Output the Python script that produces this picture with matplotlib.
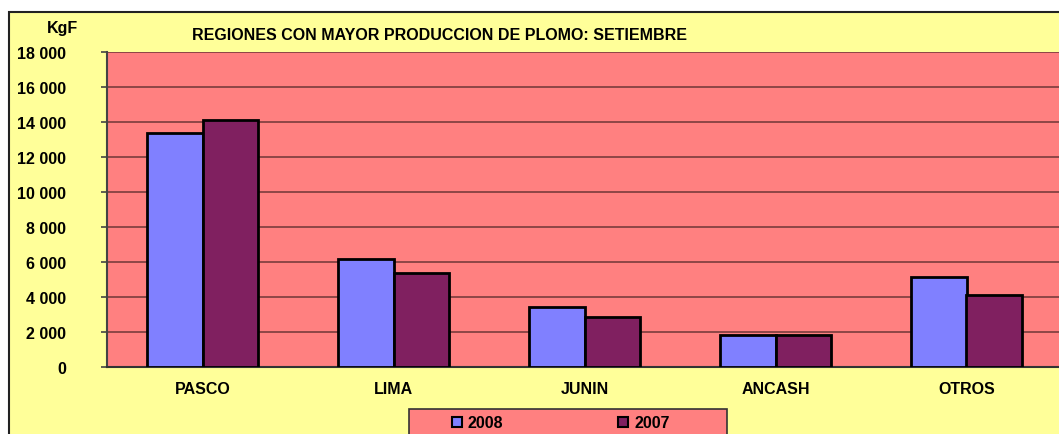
import numpy as np
import matplotlib.pyplot as plt
from matplotlib.patches import Rectangle, Patch

# data
regions = ["PASCO", "LIMA", "JUNIN", "ANCASH", "OTROS"]
prod_2008 = [13400, 6200, 3450, 1850, 5150]
prod_2007 = [14100, 5400, 2850, 1850, 4100]
yticks = [0, 2000, 4000, 6000, 8000, 10000, 12000, 14000, 16000, 18000]

plt.rcParams['font.family'] = ['Liberation Sans', 'DejaVu Sans']
plt.rcParams['font.weight'] = 'bold'

W, H = 1059, 435
fig = plt.figure(figsize=(W / 100, H / 100), dpi=100)
fig.patch.set_facecolor('white')

# yellow chart area with black border (cropped at right/bottom)
fig.patches.append(Rectangle((9 / W, -0.1), 1.2, (H - 13) / H + 0.1,
                             transform=fig.transFigure, facecolor='#FFFF99',
                             edgecolor='#222222', linewidth=1.5, zorder=-5))

# plot area: left 106px, top 53px, bottom 368px, category spacing ~191px
left, top, bottom = 107, 53, 368
ax = fig.add_axes([left / W, (H - bottom) / H, 955 / W, (bottom - top) / H])
ax.set_facecolor('#FF8080')

fs = 11.5
x = np.arange(len(regions))
w = 0.29
ax.bar(x - w / 2, prod_2008, w, color='#8080FF', edgecolor='black', linewidth=2, zorder=3)
ax.bar(x + w / 2, prod_2007, w, color='#802060', edgecolor='black', linewidth=2, zorder=3)

ax.set_xlim(-0.5, 4.5)
ax.set_ylim(0, 18000)
ax.set_yticks(yticks)
ax.set_yticklabels([f"{v:,}".replace(",", " ") for v in yticks], fontsize=fs, fontweight='bold')
ax.set_xticks(x)
ax.set_xticklabels(regions, fontsize=fs, fontweight='bold')
ax.tick_params(axis='x', length=0, pad=10)
ax.tick_params(axis='y', length=4.5, width=1.2, color='#444444', pad=25)
ax.yaxis.grid(True, color='#7a3c3c', linewidth=1.2, zorder=1)

for s in ['top', 'right']:
    ax.spines[s].set_visible(False)
ax.spines['left'].set_color('#444444')
ax.spines['left'].set_linewidth(1.5)
ax.spines['bottom'].set_color('#333333')
ax.spines['bottom'].set_linewidth(1.5)

fig.text(63 / W, 1 - 29 / H, "KgF", fontsize=fs, fontweight='bold', ha='center', va='center')
fig.text(440 / W, 1 - 36 / H, "REGIONES CON MAYOR PRODUCCION DE PLOMO: SETIEMBRE",
         fontsize=fs, fontweight='bold', ha='center', va='center')

# legend box (cropped at the bottom of the image)
fig.patches.append(Rectangle((409 / W, -0.05), 318 / W, (H - 410) / H + 0.05,
                             transform=fig.transFigure, facecolor='#FF8080',
                             edgecolor='#333333', linewidth=1.2, zorder=1))
handles = [Patch(facecolor='#8080FF', edgecolor='black', linewidth=1.5, label='2008'),
           Patch(facecolor='#802060', edgecolor='black', linewidth=1.5, label='2007')]
leg = fig.legend(handles=handles, loc='center left', bbox_to_anchor=(452 / W, 1 - 424 / H),
                 ncol=2, frameon=False, handlelength=0.6, handleheight=0.6,
                 handletextpad=0.4, columnspacing=7.2, borderpad=0, borderaxespad=0,
                 prop={'weight': 'bold', 'size': fs})
leg.set_zorder(2)

fig.savefig("out.png", dpi=100)
